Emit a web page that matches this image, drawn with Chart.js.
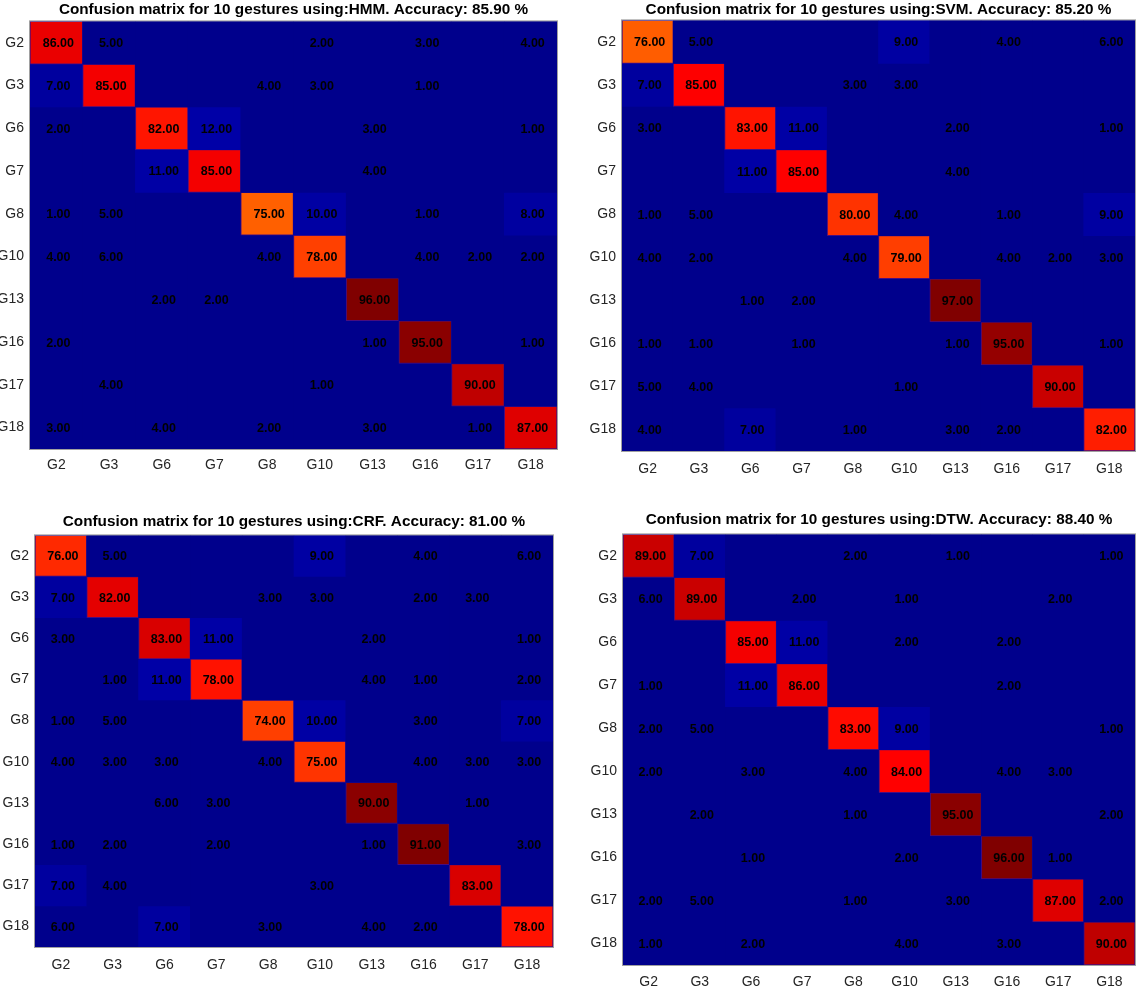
<!DOCTYPE html>
<html>
<head>
<meta charset="utf-8">
<title>Confusion matrices for 10 gestures</title>
<script src="https://cdn.jsdelivr.net/npm/chart.js@4.4.0/dist/chart.umd.min.js"></script>
<style>
  body { margin: 0; background: #fff; }
  #page { position: relative; width: 1137px; height: 987px; overflow: hidden; }
  #page canvas { position: absolute; }
</style>
</head>
<body>
<div id="page">
  <canvas id="chart-hmm" width="567" height="480" style="left:0;top:0"></canvas>
  <canvas id="chart-svm" width="570" height="480" style="left:567px;top:0"></canvas>
  <canvas id="chart-crf" width="567" height="497" style="left:0;top:490px"></canvas>
  <canvas id="chart-dtw" width="570" height="497" style="left:567px;top:490px"></canvas>
</div>
<script>
// Etiquetas de los gestos (filas = real, columnas = predicho)
const gestures = ['G2', 'G3', 'G6', 'G7', 'G8', 'G10', 'G13', 'G16', 'G17', 'G18'];
const methods = ['HMM', 'SVM', 'CRF', 'DTW'];
const accuracies = [85.90, 85.20, 81.00, 88.40];

const hmmMatrix = [
    [86, 5, 0, 0, 0, 2, 0, 3, 0, 4],
    [7, 85, 0, 0, 4, 3, 0, 1, 0, 0],
    [2, 0, 82, 12, 0, 0, 3, 0, 0, 1],
    [0, 0, 11, 85, 0, 0, 4, 0, 0, 0],
    [1, 5, 0, 0, 75, 10, 0, 1, 0, 8],
    [4, 6, 0, 0, 4, 78, 0, 4, 2, 2],
    [0, 0, 2, 2, 0, 0, 96, 0, 0, 0],
    [2, 0, 0, 0, 0, 0, 1, 95, 0, 1],
    [0, 4, 0, 0, 0, 1, 0, 0, 90, 0],
    [3, 0, 4, 0, 2, 0, 3, 0, 1, 87]
];

const svmMatrix = [
    [76, 5, 0, 0, 0, 9, 0, 4, 0, 6],
    [7, 85, 0, 0, 3, 3, 0, 0, 0, 0],
    [3, 0, 83, 11, 0, 0, 2, 0, 0, 1],
    [0, 0, 11, 85, 0, 0, 4, 0, 0, 0],
    [1, 5, 0, 0, 80, 4, 0, 1, 0, 9],
    [4, 2, 0, 0, 4, 79, 0, 4, 2, 3],
    [0, 0, 1, 2, 0, 0, 97, 0, 0, 0],
    [1, 1, 0, 1, 0, 0, 1, 95, 0, 1],
    [5, 4, 0, 0, 0, 1, 0, 0, 90, 0],
    [4, 0, 7, 0, 1, 0, 3, 2, 0, 82]
];

const crfMatrix = [
    [76, 5, 0, 0, 0, 9, 0, 4, 0, 6],
    [7, 82, 0, 0, 3, 3, 0, 2, 3, 0],
    [3, 0, 83, 11, 0, 0, 2, 0, 0, 1],
    [0, 1, 11, 78, 0, 0, 4, 1, 0, 2],
    [1, 5, 0, 0, 74, 10, 0, 3, 0, 7],
    [4, 3, 3, 0, 4, 75, 0, 4, 3, 3],
    [0, 0, 6, 3, 0, 0, 90, 0, 1, 0],
    [1, 2, 0, 2, 0, 0, 1, 91, 0, 3],
    [7, 4, 0, 0, 0, 3, 0, 0, 83, 0],
    [6, 0, 7, 0, 3, 0, 4, 2, 0, 78]
];

const dtwMatrix = [
    [89, 7, 0, 0, 2, 0, 1, 0, 0, 1],
    [6, 89, 0, 2, 0, 1, 0, 0, 2, 0],
    [0, 0, 85, 11, 0, 2, 0, 2, 0, 0],
    [1, 0, 11, 86, 0, 0, 0, 2, 0, 0],
    [2, 5, 0, 0, 83, 9, 0, 0, 0, 1],
    [2, 0, 3, 0, 4, 84, 0, 4, 3, 0],
    [0, 2, 0, 0, 1, 0, 95, 0, 0, 2],
    [0, 0, 1, 0, 0, 2, 0, 96, 1, 0],
    [2, 5, 0, 0, 1, 0, 3, 0, 87, 2],
    [1, 0, 2, 0, 0, 4, 0, 3, 0, 90]
];

const matrices = [hmmMatrix, svmMatrix, crfMatrix, dtwMatrix];

// Posición de cada panel (ancho del eje Y, márgenes, título)
const panels = [
    { id: 'chart-hmm', yWidth: 30, padRight: 10, titleTop: 1, titleBottom: 2, xHeight: 31, tickPad: 8 },
    { id: 'chart-svm', yWidth: 55, padRight: 2, titleTop: 1, titleBottom: 1, xHeight: 29, tickPad: 10 },
    { id: 'chart-crf', yWidth: 35, padRight: 14, titleTop: 23, titleBottom: 4, xHeight: 40, tickPad: 10 },
    { id: 'chart-dtw', yWidth: 56, padRight: 2, titleTop: 21, titleBottom: 5, xHeight: 22, tickPad: 9 }
];

const FONT = '"Liberation Sans", Arial, Helvetica, sans-serif';
const ZERO_BLUE = 'rgb(0,0,140)';

// Mapa de color tipo "jet"
function jetColor(t) {
    const ch = (x) => Math.round(255 * Math.min(1, Math.max(0, 1.5 - Math.abs(4 * t - x))));
    return `rgb(${ch(3)},${ch(2)},${ch(1)})`;
}

function cellColor(v, max) {
    const t = v / max;
    if (t >= 0.5) return jetColor(t);
    if (t < 0.07) return ZERO_BLUE;
    return `rgb(0,0,${Math.round(158 + (t - 0.07) * 160)})`;
}

// Fondo y borde del área de la matriz
const matrixFrame = {
    id: 'matrixFrame',
    beforeDatasetsDraw(chart) {
        const { ctx, chartArea: a } = chart;
        ctx.save();
        ctx.fillStyle = ZERO_BLUE;
        ctx.fillRect(a.left, a.top, a.right - a.left, a.bottom - a.top);
        ctx.restore();
    },
    afterDraw(chart) {
        const { ctx, chartArea: a } = chart;
        ctx.save();
        ctx.strokeStyle = '#a0a0a0';
        ctx.lineWidth = 1;
        ctx.strokeRect(a.left - 0.5, a.top - 0.5, a.right - a.left + 1, a.bottom - a.top + 1);
        ctx.restore();
    }
};

// Valores dentro de cada celda
const cellText = {
    id: 'cellText',
    afterDatasetsDraw(chart, args, opts) {
        const ctx = chart.ctx;
        ctx.save();
        ctx.font = 'bold 12.5px ' + FONT;
        ctx.fillStyle = '#000';
        ctx.textAlign = 'center';
        ctx.textBaseline = 'middle';
        chart.data.datasets.forEach((ds, r) => {
            chart.getDatasetMeta(r).data.forEach((bar, c) => {
                const v = opts.matrix[r][c];
                if (!v) return;
                ctx.fillText(v.toFixed(2), bar.x + 2, (bar.y + bar.base) / 2 + 1);
            });
        });
        ctx.restore();
    }
};

function buildChart(panel, matrix, method, accuracy) {
    const max = Math.max(...matrix.flat());
    const datasets = matrix.map((row, r) => ({
        data: row.map(() => [r, r + 1]),
        backgroundColor: row.map(v => cellColor(v, max)),
        borderColor: row.map(v => v / max >= 0.5 ? 'rgba(110,20,120,0.65)' : 'rgba(0,0,0,0)'),
        borderWidth: row.map(v => v / max >= 0.5 ? 1 : 0),
        borderSkipped: false,
        grouped: false,
        barPercentage: 1,
        categoryPercentage: 1
    }));

    const tickFont = { family: FONT, size: 14 };

    return new Chart(document.getElementById(panel.id), {
        type: 'bar',
        data: { labels: gestures, datasets },
        options: {
            responsive: false,
            animation: false,
            events: [],
            layout: { padding: { top: 0, left: 0, right: panel.padRight, bottom: 0 } },
            plugins: {
                legend: { display: false },
                tooltip: { enabled: false },
                title: {
                    display: true,
                    fullSize: false,
                    text: `Confusion matrix for 10 gestures using:${method}. Accuracy: ${accuracy.toFixed(2)} %`,
                    color: '#000',
                    font: { family: FONT, size: 15.3, weight: 'bold', lineHeight: 1.2 },
                    padding: { top: panel.titleTop, bottom: panel.titleBottom }
                },
                cellText: { matrix }
            },
            scales: {
                x: {
                    type: 'category',
                    offset: true,
                    grid: { display: false, drawTicks: false },
                    border: { display: false },
                    ticks: { color: '#262626', font: tickFont, padding: panel.tickPad, autoSkip: false, maxRotation: 0 },
                    afterFit: (scale) => { scale.height = panel.xHeight; }
                },
                y: {
                    type: 'linear',
                    reverse: true,
                    min: 0,
                    max: gestures.length,
                    grid: { display: false, drawTicks: false },
                    border: { display: false },
                    ticks: {
                        color: '#262626',
                        font: tickFont,
                        padding: 6,
                        autoSkip: false,
                        callback: (value) => gestures[Math.floor(value)]
                    },
                    afterBuildTicks: (axis) => {
                        axis.ticks = gestures.map((g, i) => ({ value: i + 0.5 }));
                    },
                    afterFit: (scale) => { scale.width = panel.yWidth; }
                }
            }
        },
        plugins: [matrixFrame, cellText]
    });
}

panels.forEach((panel, i) => buildChart(panel, matrices[i], methods[i], accuracies[i]));
</script>
</body>
</html>
